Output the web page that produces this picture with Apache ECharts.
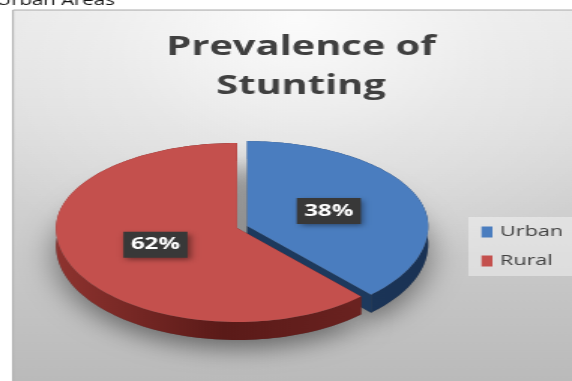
<!DOCTYPE html>
<html>
<head>
<meta charset="utf-8">
<script src="https://cdn.jsdelivr.net/npm/echarts@6/dist/echarts.min.js"></script>
<style>
  html, body { margin: 0; padding: 0; background: #fff; overflow: hidden; width: 572px; height: 381px; }
  /* the chart is laid out on a narrow canvas and widened horizontally */
  #chart { width: 381px; height: 381px; transform: scaleX(1.5013); transform-origin: 0 0; }
</style>
</head>
<body>
<div id="chart"></div>
<script>
// ---- data ----
const categories = ['Urban', 'Rural'];
const values = [38, 62];
const titleText = 'Prevalence of\nStunting';
const headingText = 'Urban Areas';

// ---- layout / style ----
const SX = 1.5013;
const total = values.reduce((a, b) => a + b, 0);
const pie = { cx: 157.9, cy: 228, rx: 120.6, ryBack: 85, ryFront: 94, depth: 18, labelRadius: 0.485 };
const explode = { Urban: 0.06, Rural: 0 };
const palette = {
  Urban: { top: '#4a7dbf', side: ['#2a4d7c', '#1b3558', '#1a3254'], cut: '#1d395d' },
  Rural: { top: '#c4504d', side: ['#8e332f', '#5a1a18', '#6a2220'], cut: '#6a2220' }
};

// point on the tilted rim; theta measured clockwise from 12 o'clock
function rim(c, theta, r) {
  const s = Math.sin(theta), co = Math.cos(theta);
  const ry = co >= 0 ? pie.ryBack : pie.ryFront;
  return [c[0] + pie.rx * r * s, c[1] - ry * r * co];
}

function renderSlice(params, api) {
  const i = params.seriesIndex;
  const name = categories[i];
  const v = api.value(0);
  let before = 0;
  for (let k = 0; k < i; k++) before += values[k];
  const a0 = before / total * Math.PI * 2;
  const a1 = (before + v) / total * Math.PI * 2;
  const mid = (a0 + a1) / 2;
  const off = rim([0, 0], mid, explode[name]);
  const c = [pie.cx + off[0], pie.cy + off[1]];
  const n = 120;
  const arc = [];
  for (let k = 0; k <= n; k++) arc.push(rim(c, a0 + (a1 - a0) * k / n, 1));
  const down = p => [p[0], p[1] + pie.depth];
  const wall = arc.concat(arc.slice().reverse().map(down));
  const topFace = [c].concat(arc);
  const bottomFace = topFace.map(down);
  const col = palette[name];
  const base = 10 + i * 10;
  const lp = rim(c, mid, pie.labelRadius);
  const pct = Math.round(v / total * 100);
  return {
    type: 'group',
    children: [
      { type: 'polygon', shape: { points: bottomFace }, z2: 1,
        style: { fill: 'rgba(60,60,60,0.6)', shadowBlur: 22, shadowColor: 'rgba(0,0,0,0.75)', shadowOffsetY: 9 } },
      { type: 'polygon', shape: { points: wall }, z2: base,
        style: { fill: { type: 'linear', x: 0, y: 0, x2: 1, y2: 0,
          colorStops: [{ offset: 0, color: col.side[0] }, { offset: 0.55, color: col.side[1] }, { offset: 1, color: col.side[2] }] } } },
      { type: 'polygon', shape: { points: [c, arc[0], down(arc[0]), down(c)] }, z2: base + 1, style: { fill: col.cut } },
      { type: 'polygon', shape: { points: [c, arc[n], down(arc[n]), down(c)] }, z2: base + 1, style: { fill: col.cut } },
      { type: 'polygon', shape: { points: topFace }, z2: base + 2, style: { fill: col.top } },
      { type: 'text', x: lp[0], y: lp[1], z2: 100,
        style: { text: pct + '%', font: 'bold 16px "Open Sans"', fill: '#ffffff', align: 'center', verticalAlign: 'middle',
          backgroundColor: '#383838', padding: [5, 5, 5, 5],
          shadowBlur: 5, shadowColor: 'rgba(0,0,0,0.45)', shadowOffsetX: 2, shadowOffsetY: 2 } }
    ]
  };
}

const boxX = 13 / SX, boxY = 10, boxW = (572 - 13) / SX + 4, boxH = 380;

const chart = echarts.init(document.getElementById('chart'));
chart.setOption({
  animation: false,
  graphic: [
    // chart area: light at the top, grey towards the bottom
    { type: 'rect', z: -10, shape: { x: boxX, y: boxY, width: boxW, height: boxH },
      style: { fill: new echarts.graphic.LinearGradient(0, 0, 0, 1, [
          { offset: 0, color: '#e8e8e8' }, { offset: 0.3, color: '#dcdcdc' }, { offset: 0.65, color: '#c9c9c9' }, { offset: 1, color: '#b9b9b9' }]),
        stroke: '#acacac', lineWidth: 1 } },
    // soft highlight behind the title
    { type: 'rect', z: -9, silent: true, shape: { x: boxX + 1, y: boxY + 1, width: boxW, height: boxH },
      style: { fill: new echarts.graphic.RadialGradient(0.5, 0.02, 0.7, [
          { offset: 0, color: 'rgba(255,255,255,0.85)' }, { offset: 0.5, color: 'rgba(255,255,255,0.3)' }, { offset: 1, color: 'rgba(255,255,255,0)' }]) } },
    { type: 'text', z: -5, x: -2.5, y: 1.1,
      style: { text: headingText, font: '13.6px "Open Sans"', fill: '#111', align: 'left', verticalAlign: 'middle' } }
  ],
  title: {
    text: titleText, left: 301 / SX, top: 28, textAlign: 'center', padding: 0,
    textStyle: { fontFamily: 'Open Sans', fontWeight: 'bold', fontSize: 26.5, lineHeight: 39, color: '#404040' }
  },
  legend: {
    data: categories, orient: 'vertical', left: 312, top: 217, padding: [8, 8, 8, 8.7],
    icon: 'rect', itemWidth: 11 / SX, itemHeight: 11, itemGap: 15,
    backgroundColor: 'rgba(255,255,255,0.4)',
    textStyle: { fontFamily: 'Open Sans', fontSize: 14.4, lineHeight: 14, color: '#404040' }
  },
  series: categories.map((name, i) => ({
    type: 'custom', name: name, coordinateSystem: 'none', silent: true,
    itemStyle: { color: palette[name].top },
    renderItem: renderSlice,
    data: [values[i]]
  }))
});
</script>
</body>
</html>
